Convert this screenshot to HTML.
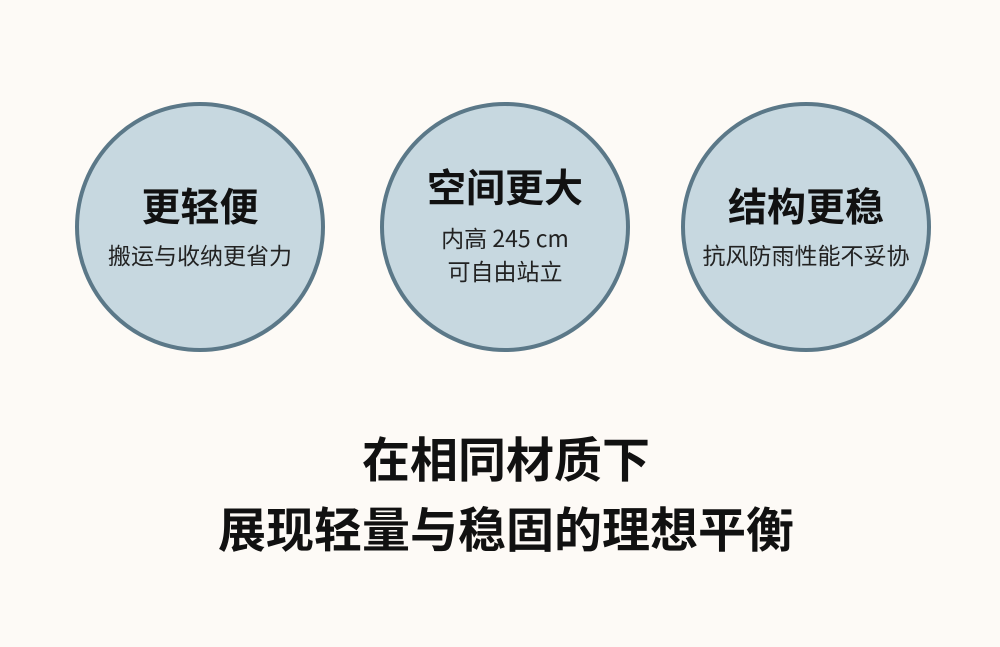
<!DOCTYPE html>
<html><head><meta charset="utf-8"><style>
html,body{margin:0;padding:0}
body{width:1000px;height:647px;background:#fdfaf6;position:relative;overflow:hidden;font-family:"Liberation Sans","Noto Sans CJK SC",sans-serif;color:#111}
.c{position:absolute;width:242px;height:242px;border:4px solid #5b7888;border-radius:50%;background:#c7d8e0;box-sizing:content-box}
.t{position:absolute;left:-20px;right:-20px;text-align:center;font-weight:700;font-size:39px;line-height:44px}
.s{position:absolute;left:-20px;right:-20px;text-align:center;font-size:23px;line-height:34px;color:#222}
.b{position:absolute;left:12px;right:0;text-align:center;font-weight:700;font-size:48px;line-height:56px}
</style></head><body>
<div class="c" style="left:75px;top:102px">
<div class="t" style="top:81px">更轻便</div>
<div class="s" style="top:133px">搬运与收纳更省力</div>
</div>
<div class="c" style="left:380px;top:102px">
<div class="t" style="top:62px">空间更大</div>
<div class="s" style="top:114px;font-family:'Noto Sans CJK SC',sans-serif">内高 245 cm</div>
<div class="s" style="top:149px">可自由站立</div>
</div>
<div class="c" style="left:681px;top:102px">
<div class="t" style="top:81px">结构更稳</div>
<div class="s" style="top:133px">抗风防雨性能不妥协</div>
</div>
<div class="b" style="top:434px">在相同材质下</div>
<div class="b" style="top:504px">展现轻量与稳固的理想平衡</div>
</body></html>
